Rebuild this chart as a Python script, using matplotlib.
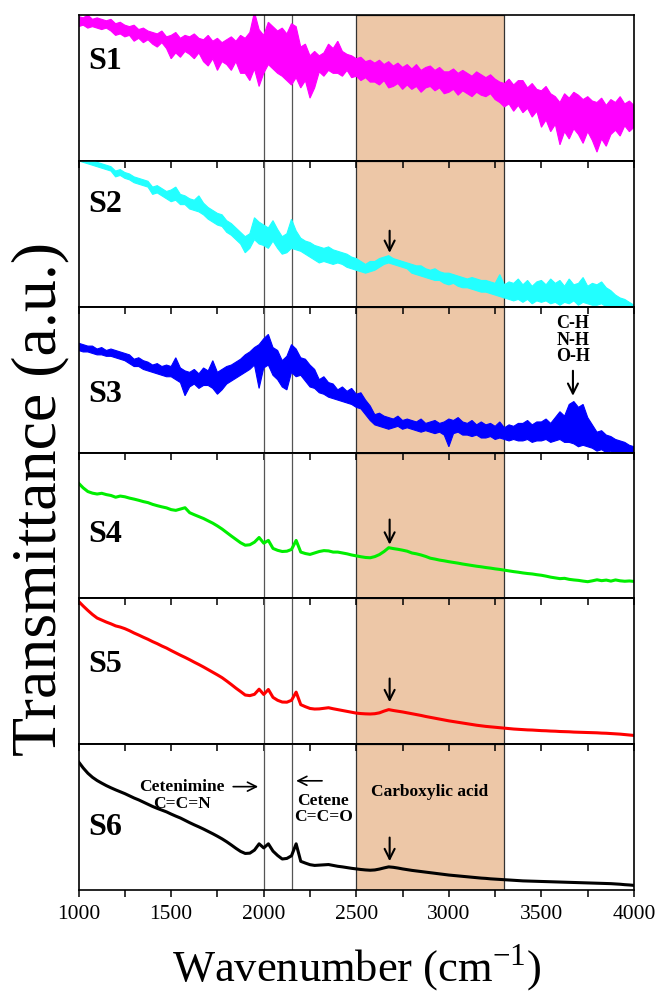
import numpy as np
import matplotlib
matplotlib.use("Agg")
import matplotlib.pyplot as plt

plt.rcParams['font.family'] = ['Liberation Serif', 'DejaVu Serif']
plt.rcParams['mathtext.fontset'] = 'custom'
plt.rcParams['mathtext.rm'] = 'Liberation Serif'

# wavenumber grid (cm-1), one reading every 25 cm-1
wn = np.arange(1000, 4001, 25)

# noisy spectra: upper / lower edge of the noise band (a.u., 0..1 per panel)
s1_hi = [.99, .98, 1.0, .97, .98, .97, .96, .97,
         .94, .95, .93, .92, .93, .90, .91, .89,
         .88, .87, .89, .85, .86, .88, .84, .86,
         .85, .87, .84, .83, .86, .82, .84, .81,
         .83, .85, .82, .86, .84, .88, 1.02, .90,
         .86, .95, .92, .89, .91, .87, .94, .92,
         .78, .80, .72, .75, .72, .74, .80, .77,
         .82, .75, .73, .72, .70, .71, .68, .69,
         .67, .69, .66, .68, .65, .67, .64, .66,
         .63, .66, .62, .64, .65, .62, .64, .61,
         .61, .63, .60, .62, .60, .58, .61, .59,
         .57, .59, .56, .54, .53, .56, .52, .55,
         .55, .50, .53, .49, .48, .51, .46, .44,
         .40, .46, .43, .47, .45, .42, .44, .41,
         .40, .43, .38, .42, .40, .44, .39, .41,
         .38]
s1_lo = [.92, .93, .91, .92, .91, .90, .91, .89,
         .86, .87, .85, .86, .82, .84, .81, .83,
         .80, .78, .81, .77, .70, .74, .71, .75,
         .73, .70, .74, .68, .65, .70, .62, .68,
         .66, .62, .68, .60, .60, .55, .63, .51,
         .60, .66, .63, .60, .58, .55, .52, .57,
         .50, .55, .43, .50, .61, .58, .62, .60,
         .60, .58, .62, .57, .58, .55, .57, .54,
         .54, .52, .55, .50, .51, .53, .49, .52,
         .49, .51, .47, .50, .51, .48, .50, .46,
         .47, .49, .45, .48, .46, .44, .47, .45,
         .44, .46, .42, .40, .37, .39, .34, .38,
         .33, .36, .30, .34, .23, .28, .20, .25,
         .11, .20, .15, .22, .18, .12, .20, .14,
         .06, .15, .10, .18, .21, .17, .24, .20,
         .23]

s2_hi = [1.03, 1.02, 1.01, 1.0, .99, .98, .97, .96,
         .93, .94, .92, .91, .89, .88, .87, .86,
         .82, .83, .81, .79, .80, .82, .77, .76,
         .74, .73, .76, .71, .68, .66, .64, .63,
         .59, .57, .54, .51, .48, .50, .61, .58,
         .56, .54, .59, .53, .48, .50, .60, .52,
         .47, .45, .44, .42, .41, .40, .41, .39,
         .38, .37, .36, .34, .33, .31, .29, .31,
         .31, .33, .34, .35, .33, .32, .31, .30,
         .29, .28, .28, .26, .25, .26, .24, .23,
         .23, .22, .21, .20, .19, .20, .19, .18,
         .18, .17, .16, .22, .15, .17, .16, .19,
         .15, .18, .14, .17, .18, .15, .19, .16,
         .18, .14, .19, .15, .16, .20, .14, .16,
         .15, .17, .13, .11, .08, .06, .05, .03,
         .01]
s2_lo = [1.0, .99, .98, .97, .96, .95, .94, .93,
         .89, .90, .88, .87, .85, .84, .83, .82,
         .77, .78, .76, .74, .72, .73, .70, .70,
         .67, .66, .65, .63, .60, .58, .56, .55,
         .51, .49, .46, .43, .37, .40, .46, .43,
         .42, .40, .45, .40, .36, .37, .40, .39,
         .38, .36, .34, .32, .30, .31, .30, .29,
         .30, .29, .27, .26, .25, .24, .23, .24,
         .25, .27, .29, .30, .29, .28, .27, .26,
         .23, .22, .21, .20, .19, .18, .18, .16,
         .15, .16, .14, .13, .13, .12, .11, .10,
         .10, .09, .08, .07, .06, .05, .04, .05,
         .03, .05, .02, .04, .03, .04, .02, .03,
         .01, .03, .02, .04, .01, .03, .02, .01,
         .01, .02, .00, -.01, -.04, -.04, -.05, -.05,
         -.05]

s3_hi = [.75, .74, .73, .73, .71, .72, .70, .71,
         .70, .69, .68, .67, .64, .65, .63, .62,
         .60, .61, .59, .60, .59, .65, .58, .56,
         .55, .57, .54, .58, .56, .63, .55, .57,
         .59, .60, .62, .64, .67, .69, .72, .74,
         .78, .81, .72, .70, .63, .66, .74, .71,
         .65, .64, .60, .57, .50, .52, .48, .47,
         .43, .45, .42, .44, .40, .41, .36, .32,
         .26, .27, .25, .24, .23, .25, .22, .23,
         .22, .21, .23, .20, .21, .22, .20, .21,
         .23, .22, .24, .21, .20, .22, .19, .21,
         .19, .20, .18, .21, .17, .19, .18, .20,
         .20, .22, .19, .21, .21, .23, .20, .24,
         .28, .25, .33, .35, .31, .33, .24, .19,
         .14, .15, .12, .11, .09, .08, .07, .05,
         .04]
s3_lo = [.70, .69, .69, .68, .67, .67, .66, .66,
         .65, .64, .63, .61, .59, .59, .57, .56,
         .55, .54, .53, .52, .52, .50, .48, .39,
         .45, .47, .44, .46, .46, .44, .40, .43,
         .47, .49, .51, .53, .55, .57, .60, .44,
         .58, .60, .53, .50, .45, .43, .55, .52,
         .53, .49, .45, .44, .41, .40, .38, .37,
         .36, .35, .34, .33, .31, .30, .26, .22,
         .19, .18, .17, .16, .17, .18, .16, .17,
         .16, .15, .14, .15, .14, .13, .14, .12,
         .04, .13, .14, .12, .12, .11, .12, .10,
         .10, .11, .09, .10, .09, .08, .09, .08,
         .08, .09, .07, .08, .08, .09, .07, .08,
         .09, .07, .07, .06, .04, .05, .04, .03,
         .01, .02, .00, .01, -.01, .00, -.02, -.02,
         -.03]

# smoother spectra
s4 = [.790, .758, .733, .722, .716, .721, .712, .706,
      .694, .702, .697, .688, .681, .673, .664, .657,
      .645, .636, .628, .621, .609, .604, .613, .622,
      .588, .574, .561, .548, .532, .516, .497, .476,
      .452, .428, .405, .382, .365, .368, .386, .418,
      .379, .398, .343, .330, .322, .324, .336, .398,
      .318, .308, .302, .312, .322, .328, .326, .318,
      .318, .312, .306, .298, .292, .286, .281, .279,
      .287, .301, .322, .348, .342, .337, .331, .324,
      .312, .306, .298, .288, .276, .270, .263, .258,
      .252, .247, .242, .236, .231, .226, .221, .217,
      .212, .208, .203, .199, .194, .189, .184, .180,
      .175, .171, .168, .163, .159, .153, .146, .141,
      .136, .138, .131, .127, .124, .119, .115, .121,
      .128, .122, .126, .119, .127, .121, .118, .120,
      .117]
s5 = [.980, .948, .918, .890, .866, .852, .838, .826,
      .812, .804, .793, .779, .763, .749, .734, .720,
      .704, .690, .674, .660, .643, .627, .611, .596,
      .580, .563, .547, .530, .512, .494, .476, .457,
      .434, .410, .385, .362, .338, .334, .343, .378,
      .342, .376, .322, .302, .290, .289, .302, .358,
      .272, .258, .246, .242, .243, .247, .251, .244,
      .238, .232, .226, .220, .214, .211, .209, .208,
      .210, .216, .228, .238, .232, .227, .222, .216,
      .210, .204, .198, .191, .185, .179, .173, .167,
      .161, .156, .151, .146, .141, .136, .131, .127,
      .123, .120, .117, .114, .111, .108, .105, .103,
      .101, .099, .098, .096, .094, .093, .091, .090,
      .088, .087, .086, .084, .083, .082, .081, .080,
      .079, .077, .076, .074, .072, .070, .067, .064,
      .061]
s6 = [.880, .838, .802, .774, .752, .734, .717, .702,
      .688, .675, .662, .647, .632, .619, .604, .589,
      .574, .561, .549, .537, .522, .508, .495, .479,
      .463, .448, .434, .419, .403, .387, .370, .352,
      .332, .310, .287, .266, .252, .254, .275, .318,
      .290, .318, .268, .238, .214, .218, .236, .318,
      .198, .186, .175, .170, .172, .174, .176, .170,
      .164, .160, .155, .150, .146, .142, .139, .137,
      .139, .145, .153, .160, .157, .152, .146, .141,
      .136, .132, .128, .124, .120, .116, .112, .108,
      .104, .101, .098, .095, .092, .089, .086, .083,
      .081, .078, .076, .074, .072, .070, .068, .066,
      .064, .063, .062, .061, .060, .059, .058, .057,
      .056, .055, .054, .053, .052, .051, .050, .049,
      .048, .047, .046, .045, .043, .041, .038, .036,
      .033]

names = ['S1', 'S2', 'S3', 'S4', 'S5', 'S6']
colors = ['#ff00ff', '#22ffff', '#0000ff', '#00ee00', '#ff0000', '#000000']
name_y = [0.68, 0.70, 0.40, 0.44, 0.55, 0.43]
bands = {0: (s1_hi, s1_lo), 1: (s2_hi, s2_lo), 2: (s3_hi, s3_lo)}
lines = {3: s4, 4: s5, 5: s6}

fig = plt.figure(figsize=(6.66, 9.98), dpi=100)
axes = fig.subplots(6, 1, sharex=True, gridspec_kw=dict(hspace=0))
fig.subplots_adjust(left=0.118, right=0.952, top=0.985, bottom=0.108)

for i, ax in enumerate(axes):
    ax.axvspan(2500, 3300, facecolor='#edc7a7', edgecolor='#333333', lw=0.9, zorder=0)
    for v in (2000, 2150):
        ax.axvline(v, color='#555555', lw=0.9, zorder=1)
    if i in bands:
        hi, lo = bands[i]
        ax.fill(np.concatenate([wn, wn[::-1]]), np.concatenate([hi, lo[::-1]]),
                facecolor=colors[i], edgecolor=colors[i], lw=0.8, zorder=2)
    else:
        ax.plot(wn, lines[i], color=colors[i], lw=2.2, zorder=2)
    ax.text(0.018, name_y[i], names[i], transform=ax.transAxes, fontsize=23,
            fontweight='bold', va='center', ha='left')
    ax.set_xlim(1000, 4000)
    ax.set_ylim(0, 1)
    ax.set_yticks([])
    ax.set_xticks(np.arange(1000, 4001, 500))
    ax.set_xticks(np.arange(1000, 4001, 250), minor=True)
    for sp in ax.spines.values():
        sp.set_linewidth(1.2)
    if i < 5:
        ax.tick_params(axis='x', which='both', bottom=False, labelbottom=False)
    else:
        ax.tick_params(axis='x', which='both', direction='out', length=5, width=1.1,
                       labelsize=15.5, pad=6)
    if i > 0:
        sec = ax.secondary_xaxis('top')
        sec.set_xticks(np.arange(1000, 4001, 250))
        sec.tick_params(axis='x', direction='in', length=5, width=1.1, labeltop=False)
        sec.spines['top'].set_linewidth(1.2)

# arrows at the carboxylic peak
arrow_pos = {1: (0.54, 0.35), 3: (0.56, 0.35), 4: (0.47, 0.27), 5: (0.38, 0.18)}
for i, (y0, y1) in arrow_pos.items():
    axes[i].annotate('', xy=(2680, y1), xytext=(2680, y0),
                     arrowprops=dict(arrowstyle='->', lw=1.5, color='k', mutation_scale=18))

axes[2].annotate('', xy=(3670, 0.37), xytext=(3670, 0.58),
                 arrowprops=dict(arrowstyle='->', lw=1.5, color='k', mutation_scale=18))
axes[2].text(3670, 0.77, 'C-H\nN-H\nO-H', ha='center', va='center', fontsize=13,
             fontweight='bold', linespacing=0.95)

ax6 = axes[5]
ax6.text(1560, 0.71, 'Cetenimine', ha='center', va='center', fontsize=12.5, fontweight='bold')
ax6.annotate('', xy=(1985, 0.71), xytext=(1820, 0.71),
             arrowprops=dict(arrowstyle='->', lw=1.2, color='k', mutation_scale=16))
ax6.text(1560, 0.59, 'C=C=N', ha='center', va='center', fontsize=12.5, fontweight='bold')
ax6.annotate('', xy=(2160, 0.75), xytext=(2330, 0.75),
             arrowprops=dict(arrowstyle='->', lw=1.2, color='k', mutation_scale=16))
ax6.text(2322, 0.61, 'Cetene', ha='center', va='center', fontsize=12.5, fontweight='bold')
ax6.text(2322, 0.50, 'C=C=O', ha='center', va='center', fontsize=12.5, fontweight='bold')
ax6.text(2895, 0.67, 'Carboxylic acid', ha='center', va='center', fontsize=12.5, fontweight='bold')

fig.text(0.536, 0.03, 'Wavenumber (cm$^{-1}$)', ha='center', va='center', fontsize=32)
fig.text(0.06, 0.50, 'Transmittance (a.u.)', ha='center', va='center', rotation=90, fontsize=46)

fig.savefig('out.png', dpi=100)
